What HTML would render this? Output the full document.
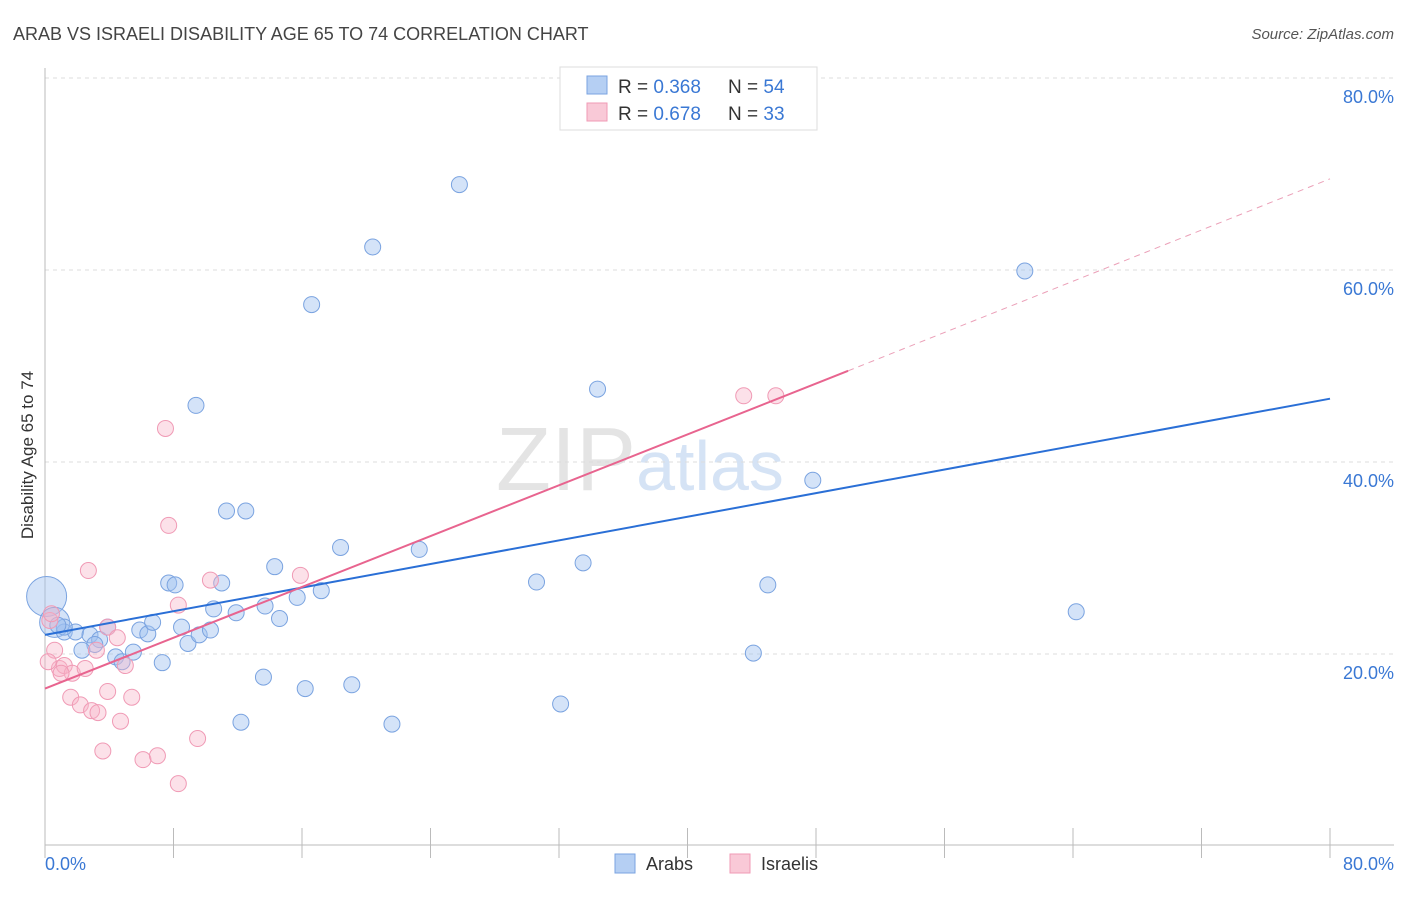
<!DOCTYPE html>
<html><head><meta charset="utf-8"><style>
body{margin:0;background:#fff;font-family:"Liberation Sans",sans-serif;}
svg text{font-family:"Liberation Sans",sans-serif;}
</style></head><body>
<svg id="c" width="1406" height="892">
<text x="13" y="40" font-size="18" fill="#444">ARAB VS ISRAELI DISABILITY AGE 65 TO 74 CORRELATION CHART</text>
<text x="1394" y="39" font-size="15" fill="#555" font-style="italic" text-anchor="end">Source: ZipAtlas.com</text>
<text x="640" y="490" font-size="90" fill="#e4e4e4" font-family="Liberation Serif" text-anchor="middle">ZIP<tspan fill="#d5e3f5" font-family="Liberation Sans" font-size="70">atlas</tspan></text>
<g id="grid"></g><g id="marks"></g>
<text transform="translate(33,455) rotate(-90)" font-size="17" fill="#333" text-anchor="middle">Disability Age 65 to 74</text>
<text x="45" y="870" font-size="18" fill="#3a78d4">0.0%</text>
<text x="1394" y="870" font-size="18" fill="#3a78d4" text-anchor="end">80.0%</text>
<g>
<rect x="560" y="67" width="257" height="63" fill="#fff" stroke="#ddd"/>
<rect x="587" y="76" width="20" height="18" fill="#b5cff3" stroke="#7aa3e0"/>
<rect x="587" y="103" width="20" height="18" fill="#f9c9d7" stroke="#f09ab5"/>
<text x="618" y="93" font-size="19" fill="#333">R = <tspan fill="#3a78d4">0.368</tspan></text>
<text x="728" y="93" font-size="19" fill="#333">N = <tspan fill="#3a78d4">54</tspan></text>
<text x="618" y="120" font-size="19" fill="#333">R = <tspan fill="#3a78d4">0.678</tspan></text>
<text x="728" y="120" font-size="19" fill="#333">N = <tspan fill="#3a78d4">33</tspan></text>
</g>
<g>
<rect x="615" y="854" width="20" height="19" fill="#b5cff3" stroke="#7aa3e0"/>
<text x="646" y="870" font-size="18" fill="#333">Arabs</text>
<rect x="730" y="854" width="20" height="19" fill="#f9c9d7" stroke="#f09ab5"/>
<text x="761" y="870" font-size="18" fill="#333">Israelis</text>
</g>
</svg>
<script>
const yTicks=[20,40,60,80];
const arabX=[0.1,0.6,1.2,1.9,2.8,3.4,3.1,2.3,4.4,4.8,5.5,3.9,5.9,6.4,6.7,7.3,7.7,8.1,8.5,8.9,9.6,10.3,10.5,11.0,9.4,11.3,12.5,11.9,13.7,14.3,14.6,13.6,15.7,16.2,16.6,17.2,18.4,19.1,20.4,21.6,23.3,25.8,30.6,32.1,33.5,34.4,44.1,45.0,47.8,61.0,64.2,12.2,1.2,0.8];
const arabY=[26.1,23.4,22.4,22.4,22.1,21.6,21.1,20.5,19.8,19.3,20.3,22.9,22.6,22.2,23.4,19.2,27.5,27.3,22.9,21.2,22.1,22.6,24.8,27.5,46.0,35.0,35.0,24.4,25.1,29.2,23.8,17.7,26.0,16.5,56.5,26.7,31.2,16.9,62.5,12.8,31.0,69.0,27.6,14.9,29.6,47.7,20.2,27.3,38.2,60.0,24.5,13.0,22.9,23.1];
const arabR=[20,15,8,8,8,8,8,8,8,8,8,8,8,8,8,8,8,8,8,8,8,8,8,8,8,8,8,8,8,8,8,8,8,8,8,8,8,8,8,8,8,8,8,8,8,8,8,8,8,8,8,8,8,8];
const israeliX=[0.3,0.6,0.9,1.2,1.6,1.7,2.2,2.5,2.7,2.9,3.2,3.3,3.6,3.9,3.9,4.5,4.7,5.0,5.4,6.1,7.0,7.5,7.7,8.3,8.3,9.5,10.3,15.9,43.5,45.5,0.2,0.4,1.0];
const israeliY=[23.6,20.5,18.6,18.9,15.6,18.1,14.8,18.6,28.8,14.2,20.5,14.0,10.0,16.2,22.9,21.8,13.1,18.9,15.6,9.1,9.5,43.6,33.5,25.2,6.6,11.3,27.8,28.3,47.0,47.0,19.3,24.3,18.1];
const arabLine=[0,22.1,80,46.7];
const israeliLine=[0,16.5,50,49.6,80,69.6];
const sx=v=>45+v*16.0625, sy=v=>847-v*9.6;
const NS="http://www.w3.org/2000/svg";
const grid=document.getElementById('grid'), marks=document.getElementById('marks');
function mk(tag,attrs,parent){const e=document.createElementNS(NS,tag);for(const k in attrs)e.setAttribute(k,attrs[k]);parent.appendChild(e);return e;}
yTicks.forEach(t=>{
 const l=mk('line',{x1:45,x2:1394,y1:sy(t)-1,y2:sy(t)-1,stroke:'#ddd','stroke-dasharray':'4,4'},grid);
 
 
 const tx=mk('text',{x:1394,y:sy(t)+24,'font-size':18,fill:'#3a78d4','text-anchor':'end'},grid);
 tx.textContent=t.toFixed(1)+'%';
 
 
});
const ax=mk('line',{x1:45,x2:45,y1:68,y2:845,stroke:'#bbb'},grid);


const bx=mk('line',{x1:45,x2:1394,y1:845,y2:845,stroke:'#bbb'},grid);


for(let i=0;i<=10;i++){const t=mk('line',{x1:sx(i*8),x2:sx(i*8),y1:828,y2:858,stroke:'#bbb'},grid);
 
 }
arabX.forEach((x,i)=>{const c=mk('circle',{cx:sx(x),cy:sy(arabY[i]),r:arabR[i],fill:'rgba(160,194,240,0.45)',stroke:'#7aa3e0','stroke-width':1},marks);
 
 });
israeliX.forEach((x,i)=>{const c=mk('circle',{cx:sx(x),cy:sy(israeliY[i]),r:8,fill:'rgba(248,180,200,0.4)',stroke:'#f09ab5','stroke-width':1},marks);
 
 });
const bl=mk('line',{x1:sx(arabLine[0]),y1:sy(arabLine[1]),x2:sx(arabLine[2]),y2:sy(arabLine[3]),stroke:'#2a6fd6','stroke-width':2},marks);


const pl=mk('line',{x1:sx(israeliLine[0]),y1:sy(israeliLine[1]),x2:sx(israeliLine[2]),y2:sy(israeliLine[3]),stroke:'#e8648f','stroke-width':2},marks);


const pd=mk('line',{x1:sx(israeliLine[2]),y1:sy(israeliLine[3]),x2:sx(israeliLine[4]),y2:sy(israeliLine[5]),stroke:'#eba0b8','stroke-width':1,'stroke-dasharray':'6,5'},marks);


</script>
</body></html>
